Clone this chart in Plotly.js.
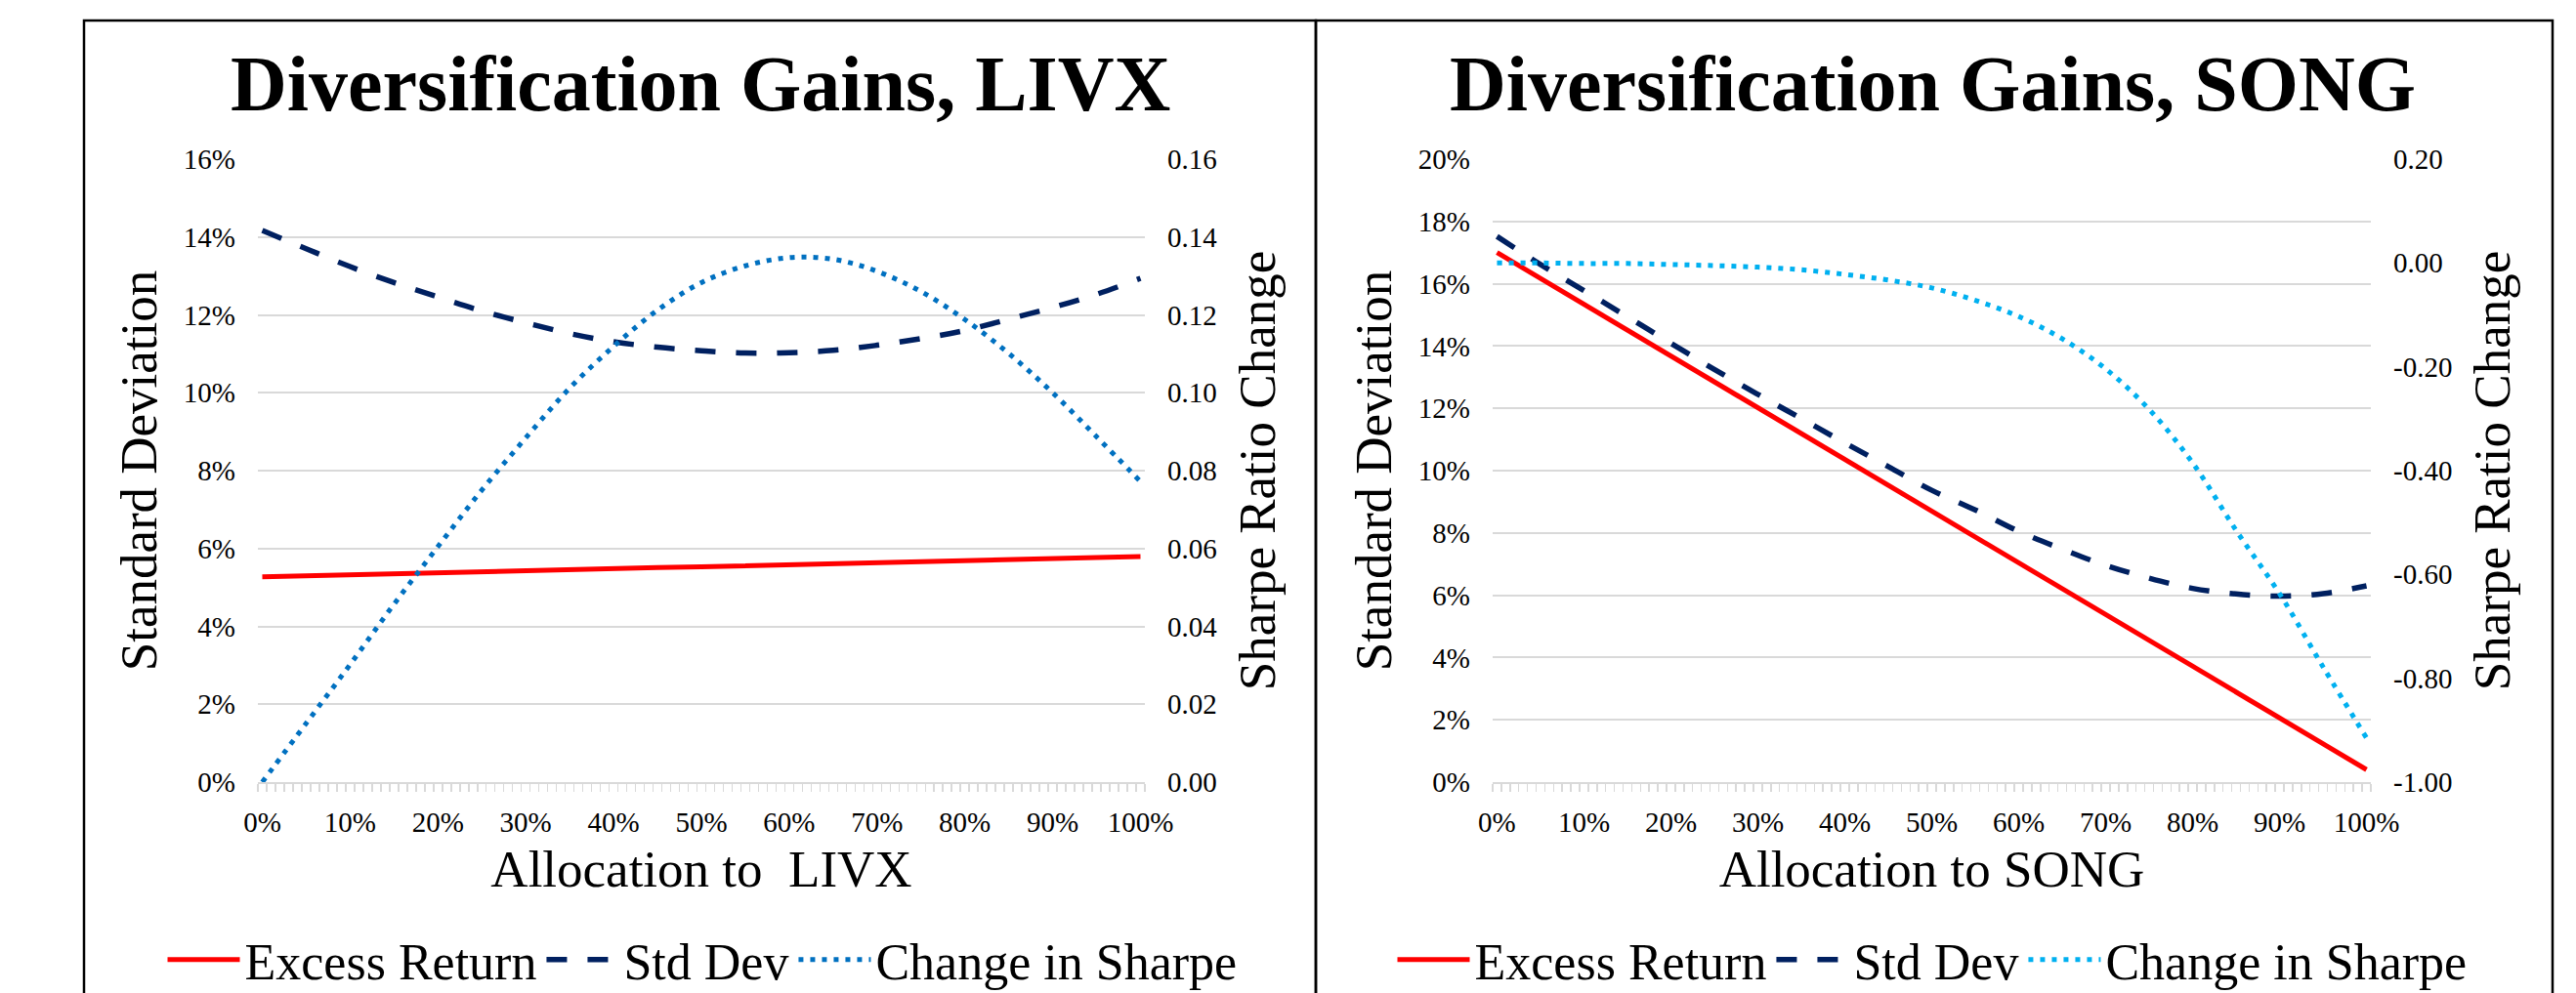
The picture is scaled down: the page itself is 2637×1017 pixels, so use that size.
<!DOCTYPE html>
<html>
<head>
<meta charset="utf-8">
<script src="https://cdn.plot.ly/plotly-3.0.1.min.js"></script>
<style>
html,body{margin:0;padding:0;background:#ffffff;}
#chart{width:2637px;height:1017px;}
</style>
</head>
<body>
<div id="chart"></div>
<script>
// ---- data (allocation in %, values as fractions) ----
const allocation = [0,5,10,15,20,25,30,35,40,45,50,55,60,65,70,75,80,85,90,95,100];
const xTickVals = [0,10,20,30,40,50,60,70,80,90,100];
const xTickText = ['0%','10%','20%','30%','40%','50%','60%','70%','80%','90%','100%'];

const livxExcessReturn = [0.0527,0.0530,0.0532,0.0535,0.0538,0.0540,0.0543,0.0545,0.0548,0.0551,0.0553,0.0556,0.0558,0.0561,0.0564,0.0566,0.0569,0.0571,0.0574,0.0577,0.0579];
const livxStdDev = [0.1417,0.1370,0.1324,0.1283,0.1246,0.1210,0.1180,0.1152,0.1131,0.1117,0.1108,0.1102,0.1103,0.1109,0.1122,0.1139,0.1160,0.1189,0.1219,0.1253,0.1294];
const livxSharpeChange = [0.0000,0.0151,0.0302,0.0457,0.0605,0.0750,0.0884,0.1012,0.1119,0.1212,0.1283,0.1326,0.1347,0.1343,0.1312,0.1260,0.1188,0.1101,0.1000,0.0887,0.0772];

const songExcessReturn = [0.1700,0.1617,0.1534,0.1451,0.1368,0.1285,0.1202,0.1119,0.1036,0.0953,0.0870,0.0787,0.0704,0.0621,0.0538,0.0455,0.0372,0.0289,0.0206,0.0123,0.0040];
const songStdDev = [0.1752,0.1662,0.1578,0.1494,0.1409,0.1325,0.1245,0.1167,0.1089,0.1013,0.0937,0.0874,0.0805,0.0748,0.0696,0.0655,0.0622,0.0604,0.0597,0.0605,0.0630];
const songSharpeChange = [0.000,-0.000,-0.001,-0.001,-0.003,-0.005,-0.008,-0.013,-0.022,-0.033,-0.048,-0.072,-0.103,-0.146,-0.204,-0.282,-0.385,-0.515,-0.637,-0.778,-0.915];

const livxSharpeTickVals = [0,0.02,0.04,0.06,0.08,0.10,0.12,0.14,0.16];
const livxSharpeTickText = ['0.00','0.02','0.04','0.06','0.08','0.10','0.12','0.14','0.16'];
const songSharpeTickVals = [-1.0,-0.8,-0.6,-0.4,-0.2,0.0,0.2];
const songSharpeTickText = ['-1.00','-0.80','-0.60','-0.40','-0.20','0.00','0.20'];

const seriesNames = ['Excess Return','Std Dev','Change in Sharpe'];
const chartTitles = ['Diversification Gains, LIVX','Diversification Gains, SONG'];
const xTitles = ['Allocation to\u00a0 LIVX','Allocation to SONG'];
const yLeftTitle = 'Standard Deviation';
const yRightTitle = 'Sharpe Ratio Change';

// ---- layout helpers ----
const W = 2637, H = 1017;
const px = x => x / W;
const py = y => 1 - y / H;
const FONT = '"Liberation Serif", "Times New Roman", Times, serif';
const RED = '#FF0000', NAVY = '#002060', BLUE1 = '#0070C0', BLUE2 = '#00B0F0', GRID = '#D9D9D9';

const solid = {color: RED, width: 5, shape: 'linear'};
const dashed = {color: NAVY, width: 5.5, dash: '21px,21px', shape: 'spline'};
const dotted = c => ({color: c, width: 5, dash: '5px,7px', shape: 'spline'});

const traces = [
  {x: allocation, y: livxExcessReturn, name: seriesNames[0], type: 'scatter', mode: 'lines', line: solid, xaxis: 'x', yaxis: 'y', legend: 'legend'},
  {x: allocation, y: livxStdDev, name: seriesNames[1], type: 'scatter', mode: 'lines', line: dashed, xaxis: 'x', yaxis: 'y', legend: 'legend'},
  {x: allocation, y: livxSharpeChange, name: seriesNames[2], type: 'scatter', mode: 'lines', line: dotted(BLUE1), xaxis: 'x', yaxis: 'y2', legend: 'legend'},
  {x: allocation, y: songExcessReturn, name: seriesNames[0], type: 'scatter', mode: 'lines', line: solid, xaxis: 'x2', yaxis: 'y3', legend: 'legend2'},
  {x: allocation, y: songStdDev, name: seriesNames[1], type: 'scatter', mode: 'lines', line: dashed, xaxis: 'x2', yaxis: 'y3', legend: 'legend2'},
  {x: allocation, y: songSharpeChange, name: seriesNames[2], type: 'scatter', mode: 'lines', line: dotted(BLUE2), xaxis: 'x2', yaxis: 'y4', legend: 'legend2'}
];

const yDomain = [py(801), py(163)];
const tickFont = {family: FONT, size: 29, color: '#000'};
const titleFont = {family: FONT, size: 53, color: '#000'};

function xAxis(domain, anchor, title) {
  return {
    domain: domain, anchor: anchor, range: [-0.5, 100.5],
    tickmode: 'array', tickvals: xTickVals, ticktext: xTickText,
    ticks: '', showgrid: false, zeroline: false,
    showline: true, linecolor: GRID, linewidth: 2,
    tickfont: tickFont, ticklabelstandoff: 14,
    minor: {ticks: 'outside', tickmode: 'linear', tick0: -0.5, dtick: 1, ticklen: 8, tickwidth: 1.5, tickcolor: GRID, showgrid: false},
    title: {text: title, font: titleFont, standoff: 14},
    automargin: false, fixedrange: true
  };
}
function yLeft(anchor, range) {
  return {
    domain: yDomain, anchor: anchor, range: range, tickmode: 'linear', tick0: 0, dtick: 0.02,
    tickformat: '.0%', ticks: '', showgrid: true, gridcolor: GRID, gridwidth: 2,
    zeroline: false, showline: false, tickfont: tickFont, ticklabelstandoff: 22,
    title: {text: yLeftTitle, font: titleFont, standoff: 10},
    automargin: false, fixedrange: true
  };
}
function yRight(anchor, overlay, range, vals, text) {
  return {
    overlaying: overlay, side: 'right', anchor: anchor, range: range,
    tickmode: 'array', tickvals: vals, ticktext: text, ticks: '',
    showgrid: false, zeroline: false, showline: false, tickfont: tickFont, ticklabelstandoff: 22,
    title: {text: yRightTitle, font: titleFont, standoff: 22},
    automargin: false, fixedrange: true
  };
}
function legendAt(cx) {
  return {
    orientation: 'h', x: px(cx), xanchor: 'center', y: py(983), yanchor: 'middle',
    font: {family: FONT, size: 52, color: '#000'}, itemwidth: 74,
    bgcolor: 'rgba(0,0,0,0)', borderwidth: 0, traceorder: 'normal'
  };
}

const layout = {
  width: W, height: H,
  margin: {l: 0, r: 0, t: 0, b: 0, pad: 0, autoexpand: false},
  paper_bgcolor: '#ffffff', plot_bgcolor: 'rgba(0,0,0,0)',
  font: {family: FONT, size: 29, color: '#000'},
  showlegend: true,
  xaxis: xAxis([px(264), px(1172)], 'y', xTitles[0]),
  yaxis: yLeft('x', [0, 0.16]),
  yaxis2: yRight('x', 'y', [0, 0.16], livxSharpeTickVals, livxSharpeTickText),
  xaxis2: xAxis([px(1528), px(2427)], 'y3', xTitles[1]),
  yaxis3: yLeft('x2', [0, 0.20]),
  yaxis4: yRight('x2', 'y3', [-1.0, 0.2], songSharpeTickVals, songSharpeTickText),
  legend: legendAt(719),
  legend2: legendAt(1978),
  annotations: [
    {text: chartTitles[0], xref: 'paper', yref: 'paper', x: px(717), y: py(86), xanchor: 'center', yanchor: 'middle', showarrow: false,
     font: {family: FONT, size: 80, color: '#000', weight: 'bold'}},
    {text: chartTitles[1], xref: 'paper', yref: 'paper', x: px(1978), y: py(86), xanchor: 'center', yanchor: 'middle', showarrow: false,
     font: {family: FONT, size: 80, color: '#000', weight: 'bold'}}
  ],
  shapes: [
    {type: 'rect', xref: 'paper', yref: 'paper', x0: px(86), x1: px(1347), y0: py(1060), y1: py(21), line: {color: '#000', width: 2.5}, fillcolor: 'rgba(0,0,0,0)', layer: 'below'},
    {type: 'rect', xref: 'paper', yref: 'paper', x0: px(1347), x1: px(2613), y0: py(1060), y1: py(21), line: {color: '#000', width: 2.5}, fillcolor: 'rgba(0,0,0,0)', layer: 'below'}
  ]
};

Plotly.newPlot('chart', traces, layout, {staticPlot: true, displayModeBar: false});
</script>
</body>
</html>
